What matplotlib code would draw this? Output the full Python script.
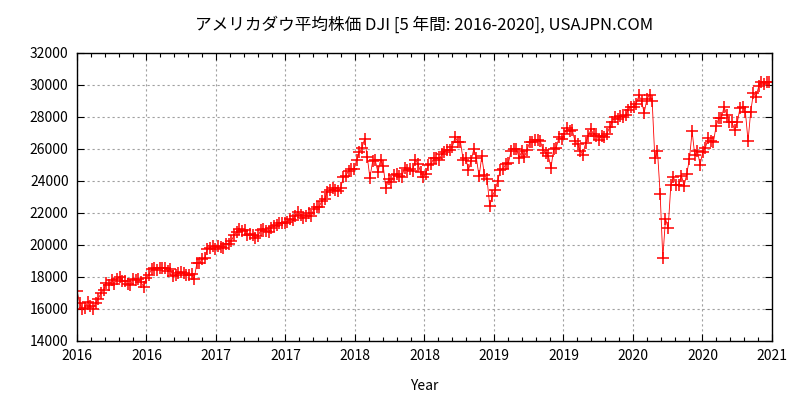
import numpy as np
import pandas as pd
import matplotlib
matplotlib.use("Agg")
import matplotlib.pyplot as plt
import matplotlib.dates as mdates

plt.rcParams["font.family"] = ["Noto Sans CJK JP", "DejaVu Sans"]

# weekly closes (Friday) of the Dow Jones Industrial Average
dji_2016 = [17149, 16346, 15988, 16093, 16466, 16205, 15974, 16392, 16640, 17006,
            17213, 17602, 17516, 17793, 17577, 17898, 18004, 17774, 17740, 17535,
            17501, 17873, 17807, 17865, 17675, 17400, 17949, 18147, 18516, 18571,
            18432, 18544, 18577, 18553, 18395, 18492, 18085, 18124, 18262, 18308,
            18240, 18138, 18146, 18161, 17888, 18847, 18868, 19152, 19171, 19757,
            19843, 19934, 19763]
dji_2017 = [19964, 19885, 19827, 20093, 20071, 20269, 20624, 20822, 21005, 20903,
            20915, 20597, 20663, 20656, 20453, 20548, 20941, 21007, 20897, 20805,
            21080, 21206, 21272, 21384, 21395, 21350, 21414, 21638, 21580, 21830,
            22092, 21858, 21675, 21814, 21988, 21798, 22268, 22350, 22405, 22774,
            22871, 23329, 23434, 23539, 23422, 23358, 23558, 24232, 24329, 24652,
            24754, 24719]
dji_2018 = [25296, 25803, 26072, 26617, 25521, 24191, 25220, 25310, 24538, 25336,
            24947, 23534, 24103, 23933, 24361, 24463, 24311, 24263, 24831, 24715,
            24753, 24635, 25317, 25090, 24581, 24271, 24456, 25019, 25058, 25451,
            25463, 25313, 25669, 25790, 25965, 25917, 26155, 26744, 26458, 26447,
            25340, 25444, 24688, 25271, 25989, 25413, 24286, 25538, 24389, 24100,
            22445, 23062]
dji_2019 = [23433, 23996, 24706, 24737, 25064, 25106, 25883, 26031, 26026, 25450,
            25849, 25502, 25929, 26425, 26412, 26560, 26543, 26505, 25942, 25764,
            25586, 24815, 25984, 26090, 26719, 26600, 26922, 27332, 27154, 27192,
            26485, 26287, 25886, 25629, 26403, 26797, 27220, 26935, 26820, 26573,
            26817, 26770, 26958, 27347, 27681, 28005, 27876, 28051, 28015, 28135,
            28455, 28645]
dji_2020 = [28635, 28824, 29348, 28990, 28256, 29103, 29398, 28992, 25409, 25865,
            23186, 19174, 21637, 21053, 23719, 24242, 23775, 23724, 24331, 23685,
            24465, 25383, 27111, 25605, 25871, 25016, 25827, 26075, 26672, 26470,
            26428, 27433, 27931, 27930, 28654, 28133, 27666, 27657, 27174, 27683,
            28587, 28606, 28336, 26502, 28323, 29480, 29263, 29910, 30218, 30046,
            30179, 30200]

x_labels = ["2016", "2016", "2017", "2017", "2018", "2018",
            "2019", "2019", "2020", "2020", "2021"]

frames = []
for year, vals in zip(range(2016, 2021), [dji_2016, dji_2017, dji_2018, dji_2019, dji_2020]):
    days = pd.date_range(f"{year}-01-01", f"{year}-12-31", freq="W-FRI")
    frames.append(pd.DataFrame({"date": days[:len(vals)], "close": vals[:len(days)]}))
data = pd.concat(frames, ignore_index=True)

fig = plt.figure(figsize=(8, 4), dpi=100)
ax = fig.add_axes([0.09625, 0.1475, 0.86875, 0.72])

ax.plot(data["date"], data["close"], color="#ff0000", lw=0.6,
        marker="+", markersize=8, markeredgewidth=1.1)

x0 = mdates.date2num(pd.Timestamp("2016-01-01"))
x1 = mdates.date2num(pd.Timestamp("2021-01-01"))
ax.set_xlim(x0, x1)
ax.set_ylim(14000, 32000)
ax.set_xticks(np.linspace(x0, x1, 11), x_labels)
ax.set_xticks(np.linspace(x0, x1, 51), minor=True)
ax.set_yticks(np.arange(14000, 32001, 2000))

ax.grid(True, which="major", color="#a0a0a0", lw=0.8, linestyle=(0, (2, 2.5)))
ax.tick_params(which="both", direction="in", top=True, right=True, labelsize=10, width=0.8)
ax.tick_params(which="major", length=5, pad=6)
ax.tick_params(which="minor", length=3)
for s in ax.spines.values():
    s.set_linewidth(1.0)

ax.set_xlabel("Year", fontsize=10, labelpad=11)
fig.text(0.5306, 0.9375, "アメリカダウ平均株価 DJI [5 年間: 2016-2020], USAJPN.COM",
         fontsize=12, ha="center", va="center")

fig.savefig("out.png", dpi=100)
